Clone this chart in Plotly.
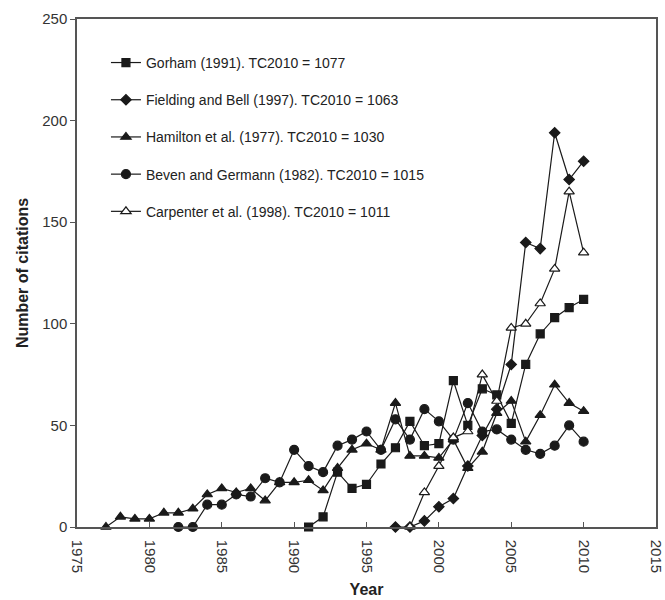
import plotly.graph_objects as go

gorham_years = list(range(1991, 2011))
gorham_vals = [0, 5, 27, 19, 21, 31, 39, 52, 40, 41, 72, 50, 68, 65, 51, 80, 95, 103, 108, 112]

fielding_years = list(range(1997, 2011))
fielding_vals = [0, 0, 3, 10, 14, 30, 45, 58, 80, 140, 137, 194, 171, 180]

hamilton_years = list(range(1977, 2011))
hamilton_vals = [0, 5, 4, 4, 7, 7, 9, 16, 19, 17, 19, 13, 22, 22, 23, 18, 29, 38, 41, 38,
                 61, 35, 35, 34, 43, 29, 37, 56, 62, 42, 55, 70, 61, 57]

beven_years = list(range(1982, 2011))
beven_vals = [0, 0, 11, 11, 16, 15, 24, 22, 38, 30, 27, 40, 43, 47, 38, 53, 43, 58, 52,
              43, 61, 47, 48, 43, 38, 36, 40, 50, 42]

carpenter_years = list(range(1998, 2011))
carpenter_vals = [0, 17, 30, 44, 47, 75, 62, 98, 100, 110, 127, 165, 135]

series_names = [
    "Gorham (1991). TC2010 = 1077",
    "Fielding and Bell (1997). TC2010 = 1063",
    "Hamilton et al. (1977). TC2010 = 1030",
    "Beven and Germann (1982). TC2010 = 1015",
    "Carpenter et al. (1998). TC2010 = 1011",
]

x_ticks = [1975, 1980, 1985, 1990, 1995, 2000, 2005, 2010, 2015]
y_ticks = [0, 50, 100, 150, 200, 250]

LINE = "#1a1a1a"
series = [
    (gorham_years, gorham_vals, "square", 8, LINE, LINE),
    (fielding_years, fielding_vals, "diamond", 8, LINE, LINE),
    (hamilton_years, hamilton_vals, "triangle-up", 9, LINE, LINE),
    (beven_years, beven_vals, "circle", 9, LINE, LINE),
    (carpenter_years, carpenter_vals, "triangle-up", 9, LINE, "white"),
]

fig = go.Figure()
for i, (xs, ys, sym, size, col, fill) in enumerate(series):
    fig.add_trace(go.Scatter(
        x=xs, y=ys, mode="lines+markers", name=series_names[i],
        legendgroup=f"g{i}",
        line=dict(color=col, width=1.2),
        marker=dict(symbol=sym, size=size, color=fill,
                    line=dict(color=col, width=1.2)),
        cliponaxis=False,
    ))

fig.update_layout(
    width=665, height=600,
    margin=dict(l=77, r=9, t=19, b=73),
    paper_bgcolor="white", plot_bgcolor="white",
    font=dict(family="Liberation Sans, Arial, sans-serif", color="#333333", size=15),
    showlegend=True,
    legend=dict(
        x=0.05, y=0.945, xanchor="left", yanchor="top",
        bgcolor="rgba(0,0,0,0)", borderwidth=0,
        font=dict(size=14, color="#222222"),
        tracegroupgap=16, itemwidth=30,
    ),
    xaxis=dict(
        range=[1975, 2015], tickvals=x_ticks, ticktext=[str(t) for t in x_ticks],
        tickangle=90, ticks="inside", ticklen=5, tickcolor="#555555",
        ticklabelstandoff=8, automargin=False, ticklabeloverflow="allow",
        showline=True, linecolor="#555555", linewidth=1.5, mirror=True,
        showgrid=False, zeroline=False,
        title=dict(text="<b>Year</b>", font=dict(size=16, color="#222222"), standoff=12),
    ),
    yaxis=dict(
        range=[0, 250], tickvals=y_ticks,
        ticks="outside", ticklen=5, tickcolor="#555555",
        automargin=False, ticklabeloverflow="allow",
        showline=True, linecolor="#555555", linewidth=1.5, mirror=True,
        showgrid=False, zeroline=False,
        title=dict(text="<b>Number of citations</b>", font=dict(size=16, color="#222222"), standoff=10),
    ),
)

fig.write_html("out.html", config={"displayModeBar": False},
               post_script="document.body.style.margin='0';document.body.style.overflow='hidden';")
